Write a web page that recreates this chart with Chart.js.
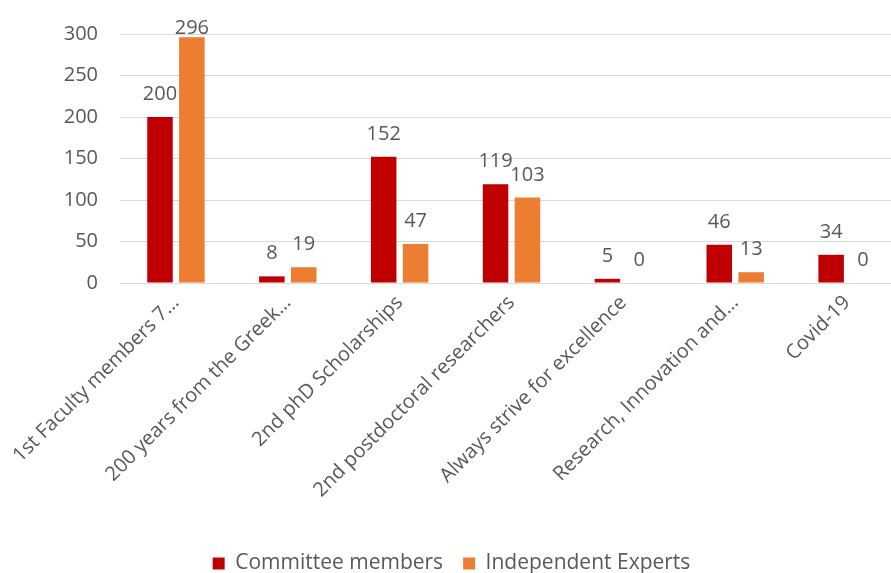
<!DOCTYPE html>
<html>
<head>
<meta charset="utf-8">
<script src="https://cdn.jsdelivr.net/npm/chart.js@4"></script>
<style>
  html, body { margin: 0; padding: 0; background: #fff; overflow: hidden; }
  #wrap { width: 905px; height: 573px; }
</style>
</head>
<body>
<div id="wrap"><canvas id="chart"></canvas></div>
<script>
// data
const categories = [
  "1st Faculty members 7…",
  "200 years from the Greek…",
  "2nd phD Scholarships",
  "2nd postdoctoral researchers",
  "Always strive for excellence",
  "Research, Innovation and…",
  "Covid-19"
];
const committeeMembers = [200, 8, 152, 119, 5, 46, 34];
const independentExperts = [296, 19, 47, 103, 0, 13, 0];
const yTicks = [0, 50, 100, 150, 200, 250, 300];

const FONT = "'Open Sans', 'Noto Sans', sans-serif";
const GREY = "#595959";

// value labels above each bar, kept inside the plot at the top
const valueLabels = {
  id: "valueLabels",
  afterDatasetsDraw(chart) {
    const ctx = chart.ctx;
    ctx.save();
    ctx.font = "20px " + FONT;
    ctx.fillStyle = GREY;
    ctx.textAlign = "center";
    ctx.textBaseline = "alphabetic";
    chart.data.datasets.forEach((ds, i) => {
      chart.getDatasetMeta(i).data.forEach((bar, j) => {
        const y = Math.max(bar.y - 17, chart.chartArea.top);
        ctx.fillText(ds.data[j], bar.x, y);
      });
    });
    ctx.restore();
  }
};

new Chart(document.getElementById("chart"), {
  type: "bar",
  data: {
    labels: categories,
    datasets: [
      { label: "Committee members", data: committeeMembers, backgroundColor: "#C00000" },
      { label: "Independent Experts", data: independentExperts, backgroundColor: "#ED7D31" }
    ]
  },
  options: {
    responsive: true,
    maintainAspectRatio: false,
    animation: false,
    categoryPercentage: 0.57,
    barPercentage: 0.8,
    layout: { padding: { top: 19, left: 0, right: 2, bottom: -11 } },
    plugins: {
      legend: {
        position: "bottom",
        labels: { color: GREY, font: { family: FONT, size: 21 }, boxWidth: 12, boxHeight: 12, padding: 20 }
      },
      tooltip: { enabled: false }
    },
    scales: {
      x: {
        grid: { display: false },
        border: { color: "#d9d9d9" },
        ticks: { color: GREY, font: { family: FONT, size: 20 }, maxRotation: 45, minRotation: 45, padding: 0 },
        afterFit: (axis) => { axis.height = 250; }
      },
      y: {
        min: 0,
        max: 300,
        afterBuildTicks: (axis) => { axis.ticks = yTicks.map(v => ({ value: v })); },
        afterFit: (axis) => { axis.width = 120; },
        grid: { color: "#d9d9d9", drawTicks: false },
        border: { display: false },
        ticks: { color: GREY, font: { family: FONT, size: 20 }, padding: 22 }
      }
    }
  },
  plugins: [valueLabels]
});
</script>
</body>
</html>
